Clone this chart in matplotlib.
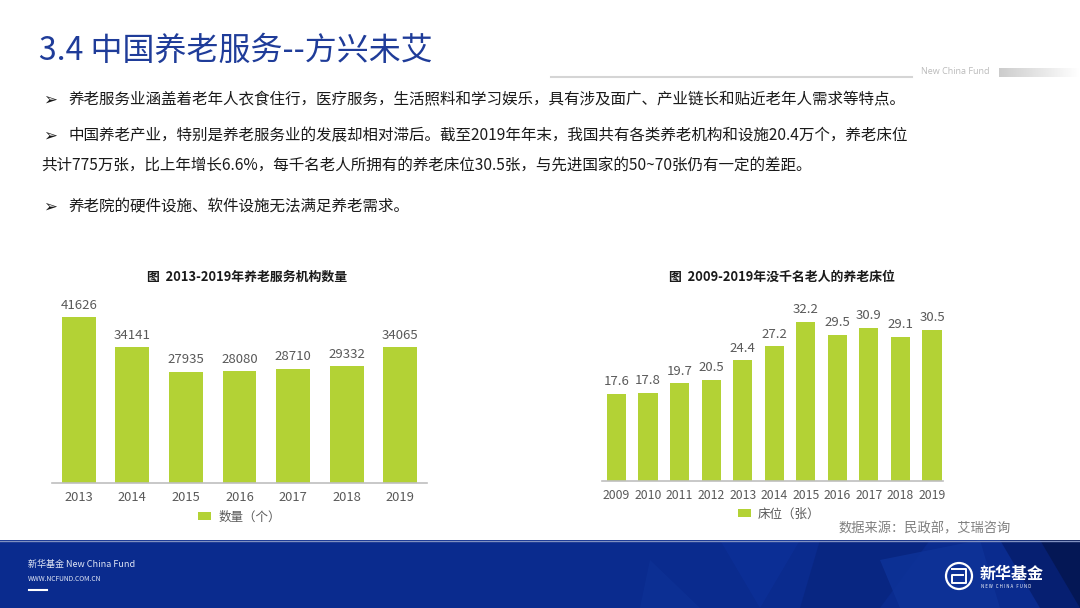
import matplotlib
matplotlib.use("Agg")
import matplotlib.pyplot as plt
from matplotlib.patches import Rectangle, Polygon, Circle
import numpy as np

plt.rcParams['font.family'] = ['Noto Sans CJK SC', 'DejaVu Sans']

# ---- data ----
inst_years = ['2013', '2014', '2015', '2016', '2017', '2018', '2019']
inst_counts = [41626, 34141, 27935, 28080, 28710, 29332, 34065]

bed_years = ['2009', '2010', '2011', '2012', '2013', '2014', '2015',
             '2016', '2017', '2018', '2019']
bed_per_k = [17.6, 17.8, 19.7, 20.5, 24.4, 27.2, 32.2, 29.5, 30.9, 29.1, 30.5]

page_title = '3.4 中国养老服务--方兴未艾'
bullets = [
    '养老服务业涵盖着老年人衣食住行，医疗服务，生活照料和学习娱乐，具有涉及面广、产业链长和贴近老年人需求等特点。',
    '中国养老产业，特别是养老服务业的发展却相对滞后。截至2019年年末，我国共有各类养老机构和设施20.4万个，养老床位',
    '共计775万张，比上年增长6.6%，每千名老人所拥有的养老床位30.5张，与先进国家的50~70张仍有一定的差距。',
    '养老院的硬件设施、软件设施无法满足养老需求。',
]
left_title = '图  2013-2019年养老服务机构数量'
right_title = '图  2009-2019年没千名老人的养老床位'
left_legend = '数量（个）'
right_legend = '床位（张）'
source = '数据来源：民政部，艾瑞咨询'

GREEN = '#B3D235'
GRAY = '#595959'
W, H = 1080, 608

fig = plt.figure(figsize=(W / 100, H / 100), dpi=100)
fig.patch.set_facecolor('white')

# background layer in pixel coordinates (decoration only)
bg = fig.add_axes([0, 0, 1, 1])
bg.set_xlim(0, W)
bg.set_ylim(H, 0)
bg.axis('off')

# header
bg.text(39, 51, page_title, fontsize=23, color='#1F3C99', va='center', ha='left')
bg.plot([551, 912], [77, 77], color='#D5D5D5', lw=1.5)
bg.text(921, 72, 'New China Fund', fontsize=6.5, color='#BBBBBB', va='center', ha='left',
        family=['Open Sans', 'DejaVu Sans'])
grad = np.linspace(0.80, 1.0, 100).reshape(1, -1)
bg.imshow(grad, cmap='gray', vmin=0, vmax=1, extent=[999, 1080, 77, 68], aspect='auto', zorder=1)
bg.set_xlim(0, W)
bg.set_ylim(H, 0)

# bullets
arrow_font = ['DejaVu Sans']
txt_kw = dict(fontsize=11.2, color='#1A1A1A', va='center', ha='left')
for y in (100, 136, 207):
    bg.text(43, y, '➢', fontsize=12, color='#1A1A1A', va='center', ha='left', family=arrow_font)
bg.text(68, 100, bullets[0], **txt_kw)
bg.text(68, 136, bullets[1], **txt_kw)
bg.text(41, 165, bullets[2], **txt_kw)
bg.text(68, 207, bullets[3], **txt_kw)

# footer band
bg.add_patch(Rectangle((0, 540), W, 68, facecolor='#0A2B8E', edgecolor='none', zorder=0))
bg.plot([0, W], [540.5, 540.5], color='#8090C0', lw=1, zorder=1)
shapes = [
    ([(720, 540), (800, 540), (760, 608)], '#0C2F98'),
    ([(820, 540), (930, 540), (880, 608), (800, 608)], '#082580'),
    ([(880, 560), (980, 540), (1000, 608), (900, 608)], '#0E3399'),
    ([(1000, 540), (1080, 540), (1080, 608), (1040, 608)], '#061C6A'),
    ([(1040, 540), (1080, 540), (1080, 608)], '#04154F'),
    ([(650, 560), (700, 608), (640, 608)], '#0D3195'),
]
for pts, col in shapes:
    bg.add_patch(Polygon(pts, closed=True, facecolor=col, edgecolor='none', alpha=0.8, zorder=0.5))
bg.text(28, 564, '新华基金 New China Fund', fontsize=6.5, color='#E0E6F5', style='italic',
        va='center', ha='left')
bg.text(28, 579, 'WWW.NCFUND.COM.CN', fontsize=4.8, color='#E0E6F5', va='center', ha='left')
bg.plot([29, 47], [590, 590], color='white', lw=1.5)

# logo
bg.add_patch(Circle((959, 576), 13, facecolor='none', edgecolor='white', lw=1.6, zorder=2))
bg.plot([952, 966, 966, 952, 952, 963], [569, 569, 583, 583, 575, 575], color='white', lw=1.4, zorder=2)
bg.text(980, 574, '新华基金', fontsize=11.5, fontweight='bold', color='white', va='center', ha='left')
bg.text(981, 587, 'N E W   C H I N A   F U N D', fontsize=3.2, color='white', va='center', ha='left')

# source note
bg.text(838, 529, source, fontsize=9.5, color='#7F7F7F', va='center', ha='left')


def fig_rect(x0, x1, ytop, ybot):
    return [x0 / W, (H - ybot) / H, (x1 - x0) / W, (ybot - ytop) / H]


def style_axis(ax, tick_size):
    for side in ('left', 'right', 'top'):
        ax.spines[side].set_visible(False)
    ax.spines['bottom'].set_color('#BFBFBF')
    ax.spines['bottom'].set_linewidth(1.2)
    ax.set_yticks([])
    ax.tick_params(axis='x', length=0, pad=6, labelsize=tick_size, labelcolor=GRAY)
    ax.patch.set_alpha(0)


# left chart: institutions
ax1 = fig.add_axes(fig_rect(52, 427, 284, 483))
x1 = np.arange(len(inst_years))
b1 = ax1.bar(x1, inst_counts, width=0.63, color=GREEN)
ax1.set_xlim(-0.5, 6.5)
ax1.set_ylim(0, 50000)
ax1.set_xticks(x1, inst_years)
style_axis(ax1, 9.3)
ax1.bar_label(b1, padding=4, fontsize=9.5, color=GRAY)
ax1.legend([b1], [left_legend], loc='center', bbox_to_anchor=(0.5, -0.171), frameon=False,
           handlelength=1.0, handleheight=0.6, handletextpad=0.6, fontsize=9, labelcolor=GRAY)
fig.text(247 / W, 1 - 277 / H, left_title, fontsize=9.3, fontweight='bold', ha='center', va='center',
         color='#1A1A1A')

# right chart: beds per thousand elderly
ax2 = fig.add_axes(fig_rect(602, 943, 283, 481))
x2 = np.arange(len(bed_years))
b2 = ax2.bar(x2, bed_per_k, width=0.61, color=GREEN)
ax2.set_xlim(-0.46, 10.35)
ax2.set_ylim(0, 40)
ax2.set_xticks(x2, bed_years)
style_axis(ax2, 8.8)
ax2.bar_label(b2, padding=4, fontsize=9.5, color=GRAY, fmt='%.1f')
ax2.legend([b2], [right_legend], loc='center', bbox_to_anchor=(0.52, -0.167), frameon=False,
           handlelength=1.0, handleheight=0.6, handletextpad=0.6, fontsize=9, labelcolor=GRAY)
fig.text(782 / W, 1 - 277 / H, right_title, fontsize=9.3, fontweight='bold', ha='center', va='center',
         color='#1A1A1A')

fig.savefig('out.png', dpi=100, facecolor='white')
